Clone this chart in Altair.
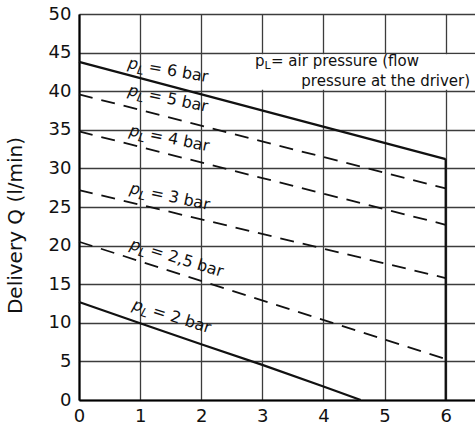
import altair as alt
import pandas as pd

# ---- data ----
series = ["6", "5", "4", "3", "2,5", "2"]
styles = ["solid", "dashed", "dashed", "dashed", "dashed", "solid"]
line_x = [
    [0, 6],
    [0, 6],
    [0, 6],
    [0, 6],
    [0, 6],
    [0, 1, 2, 3, 4, 4.61],
]
line_q = [
    [43.8, 31.2],
    [39.6, 27.4],
    [34.8, 22.7],
    [27.2, 15.8],
    [20.5, 5.3],
    [12.7, 9.95, 7.22, 4.55, 1.75, 0.0],
]
label_x = [0.79, 0.79, 0.81, 0.82, 0.82, 0.86]
label_q = [43.0, 39.5, 34.3, 26.8, 19.6, 11.8]
label_angle = [10, 12, 11.5, 12, 17, 17.5]

x_ticks = [0, 1, 2, 3, 4, 5, 6]
y_ticks = [0, 5, 10, 15, 20, 25, 30, 35, 40, 45, 50]
limit_x = 6
limit_q_top = 31.2

FONT = "DejaVu Sans"

rows = []
for s, st, xs_, qs in zip(series, styles, line_x, line_q):
    for i, (xv, qv) in enumerate(zip(xs_, qs)):
        rows.append({"p": s, "style": st, "x": xv, "q": qv, "order": i})
lines_df = pd.DataFrame(rows)

labels_df = pd.DataFrame({
    "x": label_x, "q": label_q, "angle": label_angle,
    "rest": ["= %s bar" % s for s in series],
})

xs = alt.Scale(domain=[0, 6.48], nice=False, zero=False)
ys = alt.Scale(domain=[0, 50], nice=False)

xaxis = alt.Axis(
    values=x_ticks, title=None, grid=True, ticks=False, labelPadding=7,
    labelFontSize=18, labelFont=FONT, labelColor="#111", format="d",
    labelOverlap=False, domainColor="#000", domainWidth=2.2,
    gridColor="#3c3c3c", gridWidth=1.3, labelFlush=False)
yaxis = alt.Axis(
    values=y_ticks, title="Delivery Q (l/min)", grid=True, ticks=False,
    labelPadding=8, labelFontSize=18, labelFont=FONT, labelColor="#111",
    format="d", labelOverlap=False,
    titleFontSize=20, titleFont=FONT, titleFontWeight="normal", titleColor="#111",
    titleY=211, titleX=-54, titleAngle=270, titleAlign="center", titleBaseline="bottom",
    domainColor="#000", domainWidth=2.2,
    gridColor="#3c3c3c", gridWidth=1.3, labelFlush=False)


def X(field="x"):
    return alt.X(f"{field}:Q", scale=xs, axis=xaxis)


def Y(field="q"):
    return alt.Y(f"{field}:Q", scale=ys, axis=yaxis)


base_lines = alt.Chart(lines_df)
solid = base_lines.transform_filter(alt.datum.style == "solid").mark_line(
    color="#111", strokeWidth=2.2).encode(x=X(), y=Y(), detail="p:N", order="order:Q")
dashed = base_lines.transform_filter(alt.datum.style == "dashed").mark_line(
    color="#111", strokeWidth=1.8, strokeDash=[14, 9]).encode(
    x=X(), y=Y(), detail="p:N", order="order:Q")

limit_df = pd.DataFrame({"x": [limit_x], "q": [0], "q2": [limit_q_top]})
limit = alt.Chart(limit_df).mark_rule(color="#111", strokeWidth=2.2).encode(
    x=X(), y=Y(), y2="q2:Q")

box_df = pd.DataFrame({"x": [2.8], "x2": [6.48], "q": [40.2], "q2": [44.8]})
box = alt.Chart(box_df).mark_rect(color="white").encode(
    x=X(), x2="x2:Q", y=Y(), y2="q2:Q")

lab = alt.Chart(labels_df)
ang = alt.Angle("angle:Q", scale=None)
lab_p = lab.mark_text(align="left", baseline="alphabetic", font=FONT, fontSize=16,
                      fontStyle="italic", color="#111").encode(
    x=X(), y=Y(), angle=ang, text=alt.value("p"))
lab_L = lab.mark_text(align="left", baseline="alphabetic", font=FONT, fontSize=12,
                      fontStyle="italic", color="#111", dx=10, dy=4).encode(
    x=X(), y=Y(), angle=ang, text=alt.value("L"))
lab_rest = lab.mark_text(align="left", baseline="alphabetic", font=FONT, fontSize=16,
                         color="#111", dx=21).encode(
    x=X(), y=Y(), angle=ang, text="rest:N")

note_df = pd.DataFrame({"x": [2.88], "q": [43.2], "x2": [6.40], "q2": [40.7]})
note = alt.Chart(note_df)
note_p = note.mark_text(align="left", baseline="alphabetic", font=FONT, fontSize=15,
                        color="#111").encode(x=X(), y=Y(), text=alt.value("p"))
note_L = note.mark_text(align="left", baseline="alphabetic", font=FONT, fontSize=11,
                        color="#111", dx=9.5, dy=3).encode(x=X(), y=Y(), text=alt.value("L"))
note_rest = note.mark_text(align="left", baseline="alphabetic", font=FONT, fontSize=15,
                           color="#111", dx=16).encode(
    x=X(), y=Y(), text=alt.value("= air pressure (flow"))
note_2 = note.mark_text(align="right", baseline="alphabetic", font=FONT, fontSize=15,
                        color="#111").encode(
    x=X("x2"), y=Y("q2"), text=alt.value("pressure at the driver)"))

chart = alt.layer(
    solid, box, dashed, limit, lab_p, lab_L, lab_rest, note_p, note_L, note_rest, note_2
).properties(
    width=396, height=386,
    autosize=alt.AutoSizeParams(type="none"),
    padding={"left": 79, "top": 14, "right": 0, "bottom": 29},
    background="white",
).configure_view(stroke=None)

chart.save("out.html", embed_options={"renderer": "svg", "actions": False})
